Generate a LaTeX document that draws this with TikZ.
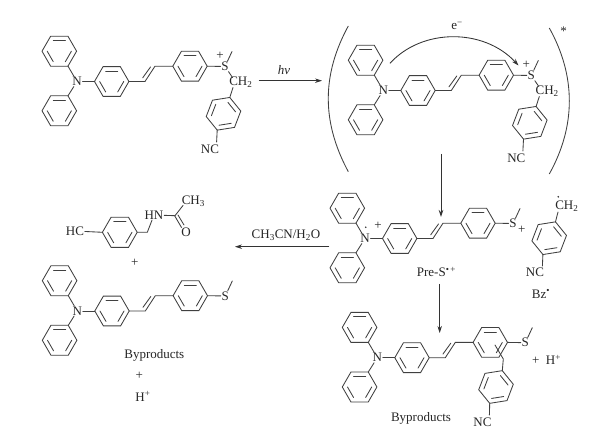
\documentclass[tikz,border=0pt]{standalone}
\usepackage{fontspec}
\setmainfont{Liberation Serif}
\usetikzlibrary{arrows.meta}
\tikzset{
  bond/.style={draw=black!75,line width=.85pt,line cap=round},
  lbl/.style={font=\fontsize{13}{13}\selectfont,text=black!85,inner sep=.6pt},
  reacarrow/.style={draw=black!80,line width=.85pt,-{Stealth[length=7pt,width=4.5pt]}},
  bracket/.style={draw=black!75,line width=.85pt}
}
% centre x, centre y, start angle, radius
\newcommand\chemring[4]{%
  \begin{scope}[shift={(#1,#2)}]
    \draw[bond] (#3:#4) -- (#3+60:#4) -- (#3+120:#4) -- (#3+180:#4) -- (#3+240:#4) -- (#3+300:#4) -- cycle;
    \draw[bond] (#3:.7*#4) -- (#3+60:.7*#4);
    \draw[bond] (#3+120:.7*#4) -- (#3+180:.7*#4);
    \draw[bond] (#3+240:.7*#4) -- (#3+300:.7*#4);
  \end{scope}}
% name prefix, N x, N y
\newcommand\tpamol[3]{%
  \begin{scope}[shift={(#2,#3)}]
    \node[lbl] (#1N) at (0,0) {N};
    \node[lbl] (#1S) at (148,-15) {S};
    \chemring{-17.7}{-30.3}{0}{17.3}
    \chemring{-17.7}{29.3}{0}{17.3}
    \chemring{34.7}{0}{0}{17.2}
    \chemring{113}{-15.3}{0}{17.2}
    \coordinate (#1a) at (-9,-15.3);
    \coordinate (#1b) at (-9,14.3);
    \coordinate (#1c) at (17.5,0);
    \coordinate (#1d) at (130.2,-15.3);
    \coordinate (#1e) at (155,-30);
    \draw[bond] (#1N) -- (#1a);
    \draw[bond] (#1N) -- (#1b);
    \draw[bond] (#1N) -- (#1c);
    \draw[bond] (#1d) -- (#1S);
    \draw[bond] (#1S) -- (#1e);
    \draw[bond] (51.9,0) -- (68,0) -- (78,-15.3) -- (95.8,-15.3);
    \draw[bond] (65.7,-3.7) -- (73.5,-14.5);
  \end{scope}}
% S-CH2-aryl-CN fragment: prefix, dx, dy
\newcommand\benzylpart[3]{%
  \begin{scope}[shift={(#2,#3)}]
    \node[lbl,anchor=west] (#1C) at (228.5,82.5) {CH\textsubscript{2}};
    \node[lbl] (#1NC) at (210,149) {NC};
    \chemring{223.5}{113.8}{-69}{17.5}
    \coordinate (#1f) at (229.8,97.5);
    \coordinate (#1g) at (217.2,130.1);
    \coordinate (#1h) at (233,87.5);
    \coordinate (#1i) at (216.6,142);
    \coordinate (#1j) at (232.5,77.5);
    \draw[bond] (#1f) -- (#1h);
    \draw[bond] (#1g) -- (#1i);
  \end{scope}}
\begin{document}
\begin{tikzpicture}[x=1pt,y=-1pt]
\useasboundingbox (0,0) rectangle (600,435);
\fill[white] (0,0) rectangle (600,435);

% starting salt
\tpamol{p}{77}{81.5}
\benzylpart{p}{0}{0}
\draw[bond] (pS) -- (pj);
\node[lbl] (pplus) at (220,56) {+};

% hv arrow
\coordinate (ha) at (258.7,80.7);
\coordinate (hb) at (322,80.7);
\draw[reacarrow] (ha) -- (hb);
\node[lbl] (hv) at (284,70) {\textit{hv}};

% excited state
\tpamol{q}{383.3}{90.5}
\benzylpart{q}{306.3}{9}
\draw[bond] (qS) -- (qj);
\node[lbl] (qplus) at (526.3,65) {+};
\coordinate (bla) at (348.3,26);
\coordinate (blb) at (348.3,171.7);
\coordinate (bra) at (549.3,28);
\coordinate (brb) at (549.3,174);
\draw[bracket] (bla) .. controls (321.6,75) and (321.6,122) .. (blb);
\draw[bracket] (bra) .. controls (576,76) and (576,126) .. (brb);
\node[lbl] (star) at (563.5,31) {*};
\node[lbl] (eminus) at (457,26) {e\textsuperscript{−}};
\coordinate (ea) at (390,63.3);
\coordinate (eb) at (518.5,65.5);
\draw[reacarrow] (ea) .. controls (422,28) and (484,28) .. (eb);

% arrow down 1
\coordinate (da) at (441,154);
\coordinate (db) at (441,217);
\draw[reacarrow] (da) -- (db);

% radical cation
\tpamol{r}{365}{238.5}
\fill[black!80] (365.7,227.3) circle (.9);
\node[lbl] (rplus) at (378,226) {+};
\node[lbl] (rplusb) at (521.7,229.5) {+};
\node[lbl] (pres) at (436.5,272) {Pre-S\textsuperscript{•\,+}};

% benzyl radical
\chemring{549.2}{238.2}{-69}{17.5}
\node[lbl,anchor=west] (bzC) at (554.5,206) {CH\textsubscript{2}};
\fill[black!80] (558.3,196.8) circle (.9);
\node[lbl] (bzNC) at (535,272.7) {NC};
\coordinate (bzf) at (555.5,221.9);
\coordinate (bzh) at (558,212);
\coordinate (bzg) at (542.9,254.5);
\coordinate (bzi) at (542.4,266);
\draw[bond] (bzf) -- (bzh);
\draw[bond] (bzg) -- (bzi);
\node[lbl] (bzdot) at (541,294) {Bz\textsuperscript{•}};

% arrow down 2
\coordinate (dc) at (439.7,284);
\coordinate (dd) at (439.7,333);
\draw[reacarrow] (dc) -- (dd);

% byproducts right
\tpamol{s}{377.3}{357.7}
\chemring{496}{387}{-69}{17.5}
\coordinate (sf) at (495,345);
\coordinate (sg) at (503.3,359);
\coordinate (sh) at (502.3,370.7);
\coordinate (si) at (489.7,403.3);
\coordinate (sj) at (489.4,415);
\draw[bond] (sf) -- (sg) -- (sh);
\draw[bond] (si) -- (sj);
\node[lbl] (sNC) at (482.5,422) {NC};
\node[lbl] (sH) at (546.5,360) {+\ \ H\textsuperscript{+}};
\node[lbl] (sbyp) at (421,418) {Byproducts};

% CH3CN arrow
\coordinate (la) at (329.3,246.7);
\coordinate (lb) at (235,246.7);
\draw[reacarrow] (la) -- (lb);
\node[lbl] (solv) at (286,235) {CH\textsubscript{3}CN/H\textsubscript{2}O};

% amide
\chemring{119.8}{232.3}{0}{17.4}
\node[lbl] (hc) at (75,231) {HC};
\node[lbl] (hn) at (154,215) {HN};
\node[lbl] (oo) at (186,232.5) {O};
\node[lbl,anchor=west] (ch3) at (181,201.5) {CH\textsubscript{3}};
\coordinate (ra) at (102.4,232.3);
\coordinate (rb) at (137.2,232.3);
\coordinate (ch) at (147.3,232.3);
\coordinate (cc) at (175,215.7);
\coordinate (cm) at (183,205.5);
\draw[bond] (hc) -- (ra);
\draw[bond] (rb) -- (ch) -- (hn);
\draw[bond] (hn) -- (cc) -- (cm);
\draw[bond] (174.8,216) -- (181.5,227.5);
\draw[bond] (178,215) -- (184,225);
\node[lbl] (plusa) at (134.7,263.3) {+};

% byproducts left
\tpamol{t}{77.3}{311}
\node[lbl] (tbyp) at (154.3,355) {Byproducts};
\node[lbl] (plusb) at (139.3,376) {+};
\node[lbl] (hplus) at (143,396.5) {H\textsuperscript{+}};
\end{tikzpicture}
\end{document}
